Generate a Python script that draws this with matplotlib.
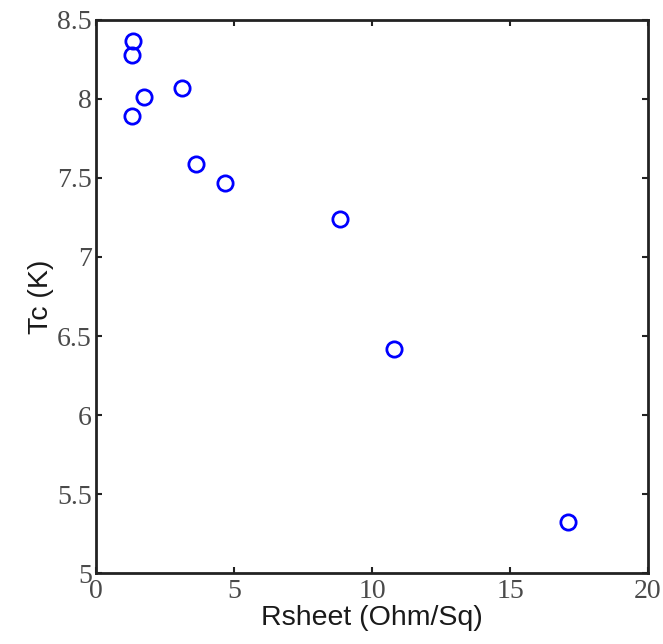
import matplotlib
matplotlib.use("Agg")
import matplotlib.pyplot as plt

# Sheet resistance vs critical temperature
rsheet = [1.34, 1.30, 1.74, 1.30, 3.12, 3.62, 4.67, 8.84, 10.80, 17.10]
tc = [8.37, 8.28, 8.01, 7.89, 8.07, 7.59, 7.47, 7.24, 6.42, 5.32]

xticks = [0, 5, 10, 15, 20]
yticks = [5, 5.5, 6, 6.5, 7, 7.5, 8, 8.5]
ytick_labels = ["5", "5.5", "6", "6.5", "7", "7.5", "8", "8.5"]

fig = plt.figure(figsize=(6.63, 6.44), dpi=100)
ax = fig.add_axes([0.1448, 0.1102, 0.8326, 0.8588])

ax.plot(rsheet, tc, linestyle="none", marker="o", markersize=11,
        markerfacecolor="none", markeredgecolor="#0000ff", markeredgewidth=2)

ax.set_xlim(0, 20)
ax.set_ylim(5, 8.5)
ax.set_xticks(xticks)
ax.set_yticks(yticks)
ax.set_yticklabels(ytick_labels)

for s in ax.spines.values():
    s.set_linewidth(2)
    s.set_color("#222222")

ax.tick_params(direction="in", length=4, width=1.5, top=True, right=True,
               labelsize=20, colors="#222222")
ax.tick_params(axis="x", pad=4)
ax.tick_params(axis="y", pad=3)
for lab in ax.get_xticklabels() + ax.get_yticklabels():
    lab.set_family(["Liberation Serif", "DejaVu Serif"])
    lab.set_color("#4a4a4a")

ax.set_xlabel("Rsheet (Ohm/Sq)", fontsize=20.5, family="Liberation Sans",
              color="#1a1a1a", labelpad=1)
ax.set_ylabel("Tc (K)", fontsize=20.5, family="Liberation Sans",
              color="#1a1a1a", labelpad=2)

fig.savefig("out.png", dpi=100)
